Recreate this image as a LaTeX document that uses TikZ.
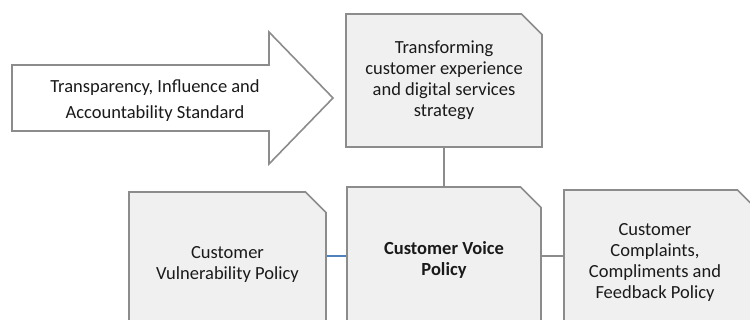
\documentclass[tikz,border=0pt]{standalone}
\usepackage{fontspec}
\setmainfont{Carlito}
\usetikzlibrary{shapes.misc}
\definecolor{bordergray}{HTML}{8C8C8C}
\definecolor{boxfill}{HTML}{F0F0F0}
\definecolor{linkblue}{HTML}{4F81BD}
\definecolor{txt}{HTML}{1A1A1A}
\newcommand{\lsh}{\hspace*{-12pt}}
\tikzset{
  cutbox/.style={chamfered rectangle, chamfered rectangle corners=north east,
    chamfered rectangle xsep=10.5pt, chamfered rectangle ysep=10pt,
    draw=bordergray, line width=1.6pt, fill=boxfill, inner sep=0pt,
    align=center, text=txt, font=\fontsize{18.5}{21}\selectfont},
  link/.style={draw=bordergray, line width=1.6pt},
  bluelink/.style={draw=linkblue, line width=1.8pt},
  bigarrow/.style={draw=bordergray, line width=1.6pt, fill=white, line join=miter},
  arrowtext/.style={align=center, text=txt, font=\fontsize{18.5}{26}\selectfont, inner sep=0pt}
}
\begin{document}
\begin{tikzpicture}[x=1pt,y=-1pt]
\useasboundingbox (0,0) rectangle (750,320);
% big arrow
\draw[bigarrow] (12,65) -- (269,65) -- (269,32) -- (333,98) -- (269,164) -- (269,131) -- (12,131) -- cycle;
\node[arrowtext] (tias) at (155,101) {Transparency, Influence and\\Accountability Standard};
% boxes
\node[cutbox, minimum width=196pt, minimum height=133pt] (top) at (444,80.5)
  {Transforming\\customer experience\\and digital services\\strategy};
\node[cutbox, minimum width=197pt, minimum height=144pt] (vul) at (227.5,264)
  {Customer\\Vulnerability Policy};
\node[cutbox, minimum width=194pt, minimum height=146pt] (voice) at (444,260)
  {\bfseries Customer Voice\\\bfseries Policy};
\node[cutbox, minimum width=194pt, minimum height=144pt] (comp) at (661,262)
  {\lsh Customer\\\lsh Complaints,\\\lsh Compliments and\\\lsh Feedback Policy};
% connectors
\draw[link] (top.south) -- (top.south |- voice.north);
\draw[bluelink] ([yshift=8pt]vul.east) -- ([yshift=8pt]vul.east -| voice.west);
\draw[link] ([yshift=4pt]voice.east) -- ([yshift=4pt]voice.east -| comp.west);
\end{tikzpicture}
\end{document}
